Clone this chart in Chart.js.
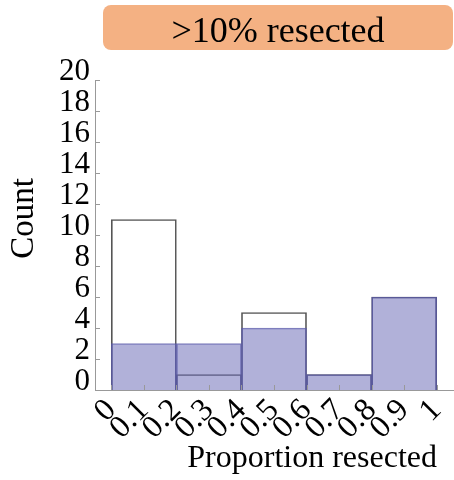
<!DOCTYPE html>
<html><head><meta charset="utf-8">
<script src="https://cdn.jsdelivr.net/npm/chart.js@4"></script>
<style>
html,body{margin:0;padding:0;background:#fff;}
#wrap{position:relative;width:454px;height:480px;}
#title{position:absolute;left:103px;top:5px;width:350px;height:42px;padding-top:3px;background:#f4b183;border-radius:8px;text-align:center;font-family:'Liberation Serif','Times New Roman',serif;font-size:36px;line-height:45px;color:#000;}
canvas{position:absolute;left:0;top:0;}
</style></head><body>
<div id="wrap"><canvas id="c" width="454" height="480"></canvas><div id="title">&gt;10% resected</div></div>
<script>
const binCenters = [0.1, 0.3, 0.5, 0.7, 0.9];
const allCounts = [11, 1, 5, 1, 6];
const resectedCounts = [3, 3, 4, 1, 6];
const xTickValues = [0, 0.1, 0.2, 0.3, 0.4, 0.5, 0.6, 0.7, 0.8, 0.9, 1];
const xTickLabels = ['0', '0.1', '0.2', '0.3', '0.4', '0.5', '0.6', '0.7', '0.8', '0.9', '1'];
const yTickValues = [0, 2, 4, 6, 8, 10, 12, 14, 16, 18, 20];
const yTickLabels = ['0', '2', '4', '6', '8', '10', '12', '14', '16', '18', '20'];

const FAMILY = "'Liberation Serif', 'Times New Roman', serif";

const inwardTicks = {
  id: 'inwardTicks',
  afterDatasetsDraw(chart) {
    const {ctx, chartArea: a, scales: {x, y}} = chart;
    ctx.save();
    ctx.strokeStyle = '#999';
    ctx.lineWidth = 1;
    ctx.beginPath();
    x.ticks.forEach((t, i) => {
      const px = Math.round(x.getPixelForTick(i)) + 0.5;
      ctx.moveTo(px, a.bottom);
      ctx.lineTo(px, a.bottom - 5);
    });
    y.ticks.forEach((t, i) => {
      const py = Math.round(y.getPixelForTick(i)) + 0.5;
      ctx.moveTo(a.left, py);
      ctx.lineTo(a.left + 5, py);
    });
    ctx.stroke();
    ctx.restore();
  }
};

const barCommon = {stack: 's', barThickness: 'flex', barPercentage: 1, categoryPercentage: 1, borderWidth: 1};

new Chart(document.getElementById('c'), {
  type: 'bar',
  data: {
    datasets: [
      Object.assign({
        label: '>10% resected',
        data: binCenters.map((x, i) => ({x: x, y: resectedCounts[i]})),
        backgroundColor: 'rgba(100,100,180,0.5)',
        borderColor: 'rgba(90,90,170,0.75)'
      }, barCommon),
      Object.assign({
        label: 'All',
        data: binCenters.map((x, i) => ({x: x, y: allCounts[i]})),
        backgroundColor: 'rgba(255,255,255,0)',
        borderColor: '#555'
      }, barCommon)
    ]
  },
  options: {
    responsive: false,
    devicePixelRatio: 1,
    animation: false,
    layout: {padding: {top: 80, right: 1, left: 0, bottom: 0}},
    plugins: {legend: {display: false}, tooltip: {enabled: false}},
    scales: {
      x: {
        type: 'linear', min: -0.05, max: 1.05, stacked: true, offset: false,
        afterBuildTicks: s => { s.ticks = xTickValues.map(v => ({value: v})); },
        afterFit: s => { s.height = 90; s.paddingLeft = 0; s.paddingRight = 0; },
        grid: {display: false, drawTicks: false, offset: false},
        border: {display: true, color: '#999', width: 1},
        ticks: {
          autoSkip: false, minRotation: 45, maxRotation: 45, padding: 8, color: '#000',
          font: {family: FAMILY, size: 32, lineHeight: 0.65},
          callback: (v, i) => xTickLabels[i]
        },
        title: {display: true, text: 'Proportion resected  ', align: 'end', color: '#000',
          font: {family: FAMILY, size: 32}, padding: {top: 0, bottom: 2}}
      },
      y: {
        min: 0, max: 20, stacked: false,
        afterBuildTicks: s => { s.ticks = yTickValues.map(v => ({value: v})); },
        afterFit: s => { s.width = 95; },
        grid: {display: false, drawTicks: false},
        border: {display: true, color: '#999', width: 1},
        ticks: {
          autoSkip: false, padding: 5, color: '#000',
          font: {family: FAMILY, size: 31, lineHeight: 0.5},
          callback: (v, i) => [yTickLabels[i], '']
        },
        title: {display: true, text: '    Count', color: '#000',
          font: {family: FAMILY, size: 33}, padding: {top: 5, bottom: 4}}
      }
    }
  },
  plugins: [inwardTicks]
});
</script>
</body></html>
